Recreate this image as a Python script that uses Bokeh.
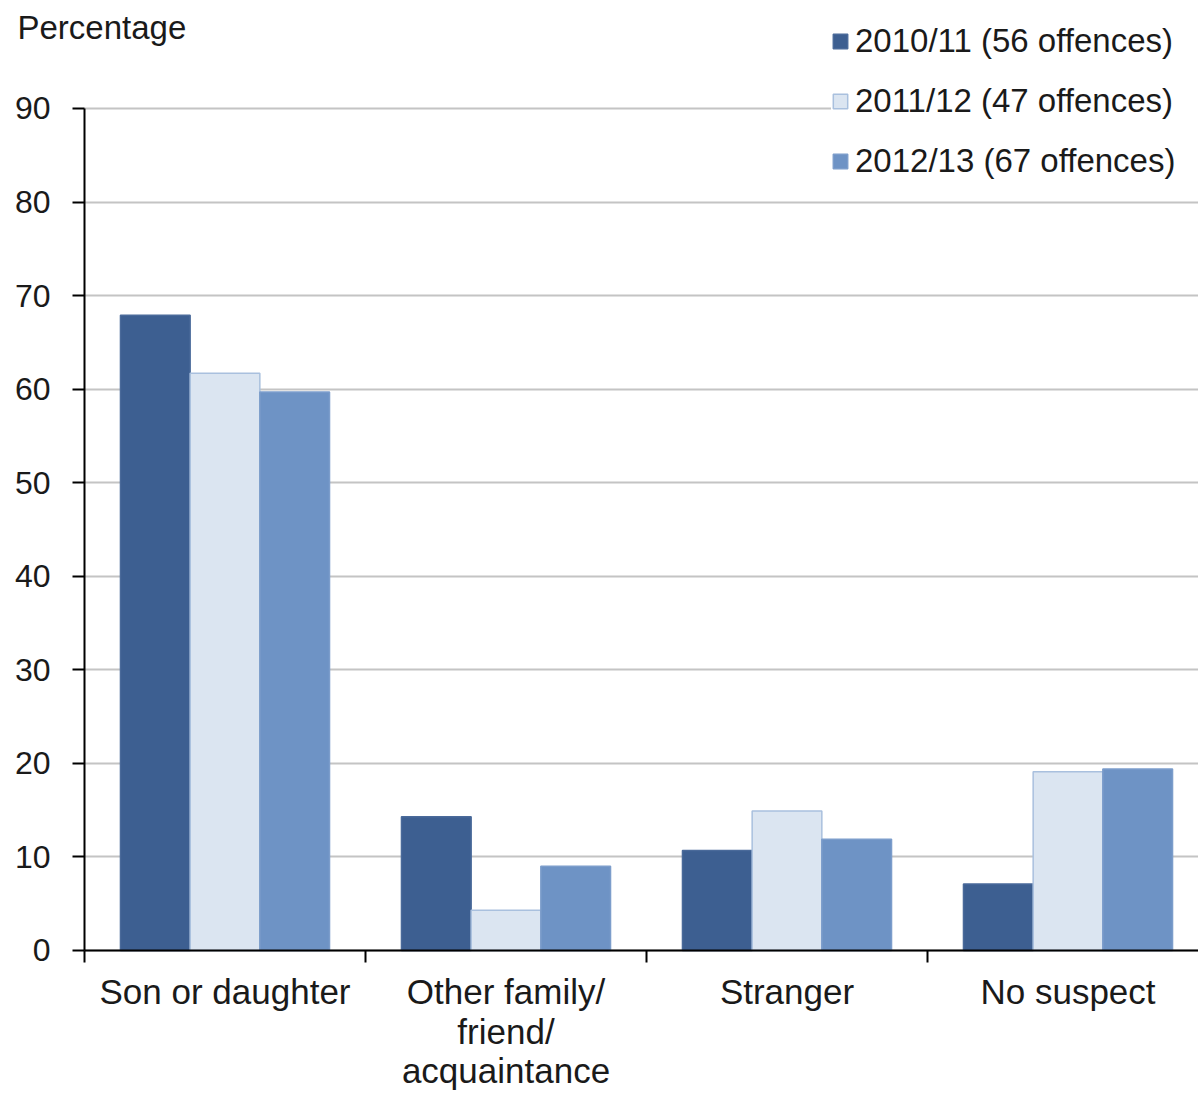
from bokeh.plotting import figure
from bokeh.models import FixedTicker, Label, Legend, LegendItem, Range1d
from bokeh.embed import file_html
from bokeh.resources import INLINE

categories = ["Son or daughter", "Other family/\nfriend/\nacquaintance", "Stranger", "No suspect"]
series_names = ["2010/11 (56 offences)", "2011/12 (47 offences)", "2012/13 (67 offences)"]
v_2010_11 = [67.9, 14.3, 10.7, 7.1]
v_2011_12 = [61.7, 4.3, 14.9, 19.1]
v_2012_13 = [59.7, 9.0, 11.9, 19.4]
y_ticks = [0, 10, 20, 30, 40, 50, 60, 70, 80, 90]

series_values = [v_2010_11, v_2011_12, v_2012_13]
fills = ["#3D5F91", "#DBE5F1", "#6E93C5"]
lines = ["#4A6A9A", "#A9C0DE", "#7C9DCB"]
offsets = [-0.248, 0.0, 0.248]
bar_w = 0.248

FONT = "Liberation Sans"
TXT = "#1a1a1a"

W, H = 1198, 1093
X0, X1 = -0.2989, 3.9644
Y0, Y1 = -15.285, 101.54
XMAX = X1
YMAX = 90

p = figure(width=W, height=H, output_backend="svg", toolbar_location=None,
           x_range=Range1d(X0, X1), y_range=Range1d(Y0, Y1),
           min_border_left=0, min_border_right=0, min_border_top=0, min_border_bottom=0)
p.outline_line_color = None
p.background_fill_color = "white"

items = []
for name, vals, fc, lc, off in zip(series_names, series_values, fills, lines, offsets):
    xs = [i + 0.5 + off for i in range(len(categories))]
    r = p.vbar(x=xs, top=vals, width=bar_w, fill_color=fc, line_color=lc, line_width=1.5)
    items.append(LegendItem(label=name, renderers=[r]))

# x axis drawn at y = 0 inside the frame
xa = p.xaxis[0]
xa.fixed_location = 0
xa.bounds = (0, XMAX)
xa.ticker = FixedTicker(ticks=[0.5, 1.5, 2.5, 3.5], minor_ticks=[0, 1, 2, 3, 4])
xa.major_label_overrides = {i + 0.5: c for i, c in enumerate(categories)}
xa.major_tick_line_color = None
xa.major_tick_out = 0
xa.major_tick_in = 0
xa.minor_tick_line_color = "black"
xa.minor_tick_line_width = 2
xa.minor_tick_out = 12
xa.minor_tick_in = 0
xa.axis_line_color = "black"
xa.axis_line_width = 2
xa.major_label_standoff = 10
xa.major_label_text_font = FONT
xa.major_label_text_font_size = "35px"
xa.major_label_text_color = TXT
xa.major_label_text_line_height = 1.01

# y axis drawn at x = 0 inside the frame
ya = p.yaxis[0]
ya.fixed_location = 0
ya.bounds = (0, YMAX)
ya.ticker = FixedTicker(ticks=y_ticks)
ya.major_tick_line_color = "black"
ya.major_tick_line_width = 2
ya.major_tick_out = 12
ya.major_tick_in = 0
ya.minor_tick_line_color = None
ya.axis_line_color = "black"
ya.axis_line_width = 2
ya.major_label_standoff = 22
ya.major_label_text_font = FONT
ya.major_label_text_font_size = "32px"
ya.major_label_text_color = TXT

p.xgrid.grid_line_color = None
p.ygrid.grid_line_color = "#C4C4C4"
p.ygrid.grid_line_width = 2
p.ygrid.ticker = FixedTicker(ticks=y_ticks)
p.ygrid.cross_bounds = (0, XMAX)

p.add_layout(Label(x=17, y=1066, x_units="screen", y_units="screen", text="Percentage",
                   text_font=FONT, text_font_size="33px", text_color=TXT,
                   text_baseline="middle", text_align="left"))

legend = Legend(items=items, location=(831, 913))
legend.glyph_width = 18
legend.glyph_height = 18
legend.label_standoff = 6
legend.label_width = 345
legend.label_text_font = FONT
legend.label_text_font_size = "33px"
legend.label_text_color = TXT
legend.spacing = 22
legend.padding = 35
legend.margin = 0
legend.border_line_color = None
legend.background_fill_color = "white"
legend.background_fill_alpha = 1.0
p.add_layout(legend, "center")

open("out.html", "w").write(file_html(p, INLINE))
